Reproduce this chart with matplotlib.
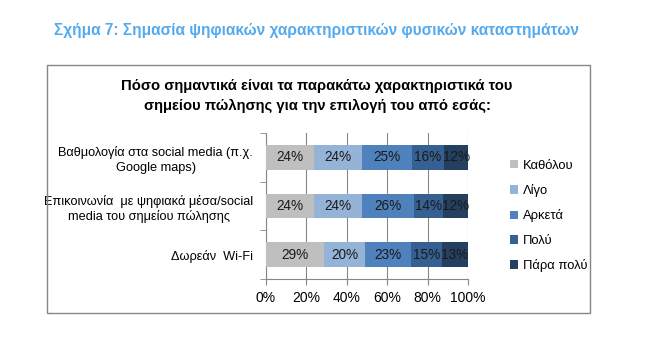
import matplotlib.pyplot as plt
from matplotlib.patches import Rectangle
from matplotlib import font_manager

# data (top row first)
categories = ["Βαθμολογία στα social media (π.χ.\nGoogle maps)",
              "Επικοινωνία  με ψηφιακά μέσα/social\nmedia του σημείου πώλησης",
              "Δωρεάν  Wi-Fi"]
levels = ["Καθόλου", "Λίγο", "Αρκετά", "Πολύ", "Πάρα πολύ"]
kathólou = [23.7, 23.7, 28.8]
ligo = [23.8, 23.8, 20.4]
arketa = [24.6, 25.9, 22.8]
poly = [16.2, 14.4, 15.0]
para_poly = [11.7, 12.2, 13.0]
series = [kathólou, ligo, arketa, poly, para_poly]
colors = ["#BFBFBF", "#95B3D7", "#4F81BD", "#376092", "#243F60"]
xticks = [0, 20, 40, 60, 80, 100]

names = {f.name for f in font_manager.fontManager.ttflist}
font = "Liberation Sans Narrow" if "Liberation Sans Narrow" in names else "Liberation Sans"
plt.rcParams["font.family"] = [font, "DejaVu Sans"]

W, H = 665, 359
fig = plt.figure(figsize=(W / 100, H / 100), dpi=100)

# outer box of the chart
fig.patches.append(Rectangle((47 / W, 1 - 313 / H), (590 - 47) / W, (313 - 65) / H,
                             transform=fig.transFigure, fill=False,
                             edgecolor="#868686", linewidth=1))

fig.text(316 / W, 1 - 31 / H, "Σχήμα 7: Σημασία ψηφιακών χαρακτηριστικών φυσικών καταστημάτων",
         ha="center", va="center", fontsize=11.2, fontweight="bold", color="#55AAEE")
fig.text(317 / W, 1 - 96 / H,
         "Πόσο σημαντικά είναι τα παρακάτω χαρακτηριστικά του\nσημείου πώλησης για την επιλογή του από εσάς:",
         ha="center", va="center", fontsize=10.6, fontweight="bold", color="black",
         linespacing=1.5)

ax = fig.add_axes([265.7 / W, 1 - 279 / H, (468 - 265.7) / W, 146 / H])
y = [2, 1, 0]
left = [0, 0, 0]
for vals, lab, col in zip(series, levels, colors):
    bars = ax.barh(y, vals, left=left, height=0.51, color=col, label=lab, zorder=3)
    ax.bar_label(bars, labels=[f"{round(v)}%" for v in vals], label_type="center",
                 fontsize=9.8, color="#1a1a1a")
    left = [a + b for a, b in zip(left, vals)]

ax.set_xlim(0, 100)
ax.set_ylim(-0.5, 2.5)
ax.set_xticks(xticks)
ax.set_xticklabels([f"{t}%" for t in xticks], fontsize=10)
ax.set_yticks(y)
ax.set_yticklabels(categories, fontsize=9.2, linespacing=1.25)
ax.set_yticks([-0.5, 0.5, 1.5, 2.5], minor=True)
ax.tick_params(axis="y", which="major", length=0, pad=9)
ax.tick_params(axis="y", which="minor", length=4, color="#868686")
ax.tick_params(axis="x", length=4, color="#868686", pad=5)
for lbl in ax.get_yticklabels():
    lbl.set_horizontalalignment("right")
    lbl.set_multialignment("center")
ax.grid(axis="x", color="#868686", linewidth=0.8, zorder=0)
for s in ["top", "right"]:
    ax.spines[s].set_visible(False)
for s in ["left", "bottom"]:
    ax.spines[s].set_color("#868686")

ax.legend(loc="center left", bbox_to_anchor=(503 / W, 1 - 216 / H),
          bbox_transform=fig.transFigure, frameon=False, fontsize=9.4,
          handlelength=0.65, handleheight=0.65, handletextpad=0.35, labelspacing=0.95,
          borderpad=0)

fig.savefig("out.png", dpi=100)
